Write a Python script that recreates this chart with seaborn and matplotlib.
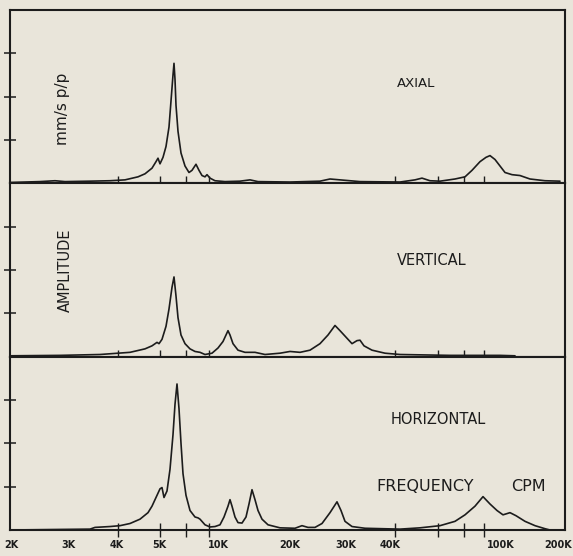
import matplotlib
matplotlib.use("Agg")
import matplotlib.pyplot as plt
import seaborn as sns
import pandas as pd

# ---------------- data (x = position along the chart's frequency scale) ----------------
tick_labels = ["2K", "3K", "4K", "5K", "10K", "20K", "30K", "40K", "100K", "200K"]
tick_label_pos = [11, 68, 117, 159, 218, 290, 346, 390, 501, 558]
tick_mark_pos = [68, 118, 160, 186, 209, 290, 346, 395, 438, 464, 484, 501]

axial_x = [10, 40, 55, 65, 90, 110, 125, 138, 145, 152, 156, 158, 160, 163, 166, 169, 171,
           173, 174, 175, 176, 178, 181, 185, 189, 192, 196, 199, 202, 205, 207, 210, 215,
           225, 240, 250, 258, 290, 320, 330, 340, 360, 400, 415, 422, 430, 440, 455, 465,
           472, 480, 486, 490, 495, 500, 505, 512, 520, 530, 545, 560]
axial_y = [0.02, 0.04, 0.06, 0.04, 0.05, 0.06, 0.08, 0.15, 0.22, 0.35, 0.50, 0.58, 0.45,
           0.60, 0.85, 1.30, 1.90, 2.50, 2.77, 2.40, 1.80, 1.20, 0.70, 0.40, 0.25, 0.30,
           0.44, 0.30, 0.18, 0.15, 0.20, 0.12, 0.06, 0.04, 0.05, 0.08, 0.04, 0.03, 0.05,
           0.10, 0.08, 0.04, 0.03, 0.08, 0.12, 0.06, 0.05, 0.10, 0.15, 0.30, 0.50, 0.60,
           0.64, 0.55, 0.40, 0.25, 0.20, 0.18, 0.10, 0.06, 0.05]

vert_x = [10, 60, 100, 130, 145, 152, 157, 159, 162, 166, 169, 172, 174, 176, 178, 181,
          185, 190, 195, 200, 205, 212, 218, 223, 226, 228, 230, 233, 238, 245, 255, 265,
          280, 290, 300, 310, 320, 328, 335, 340, 348, 352, 357, 360, 364, 372, 385, 400,
          450, 500, 515]
vert_y = [0.02, 0.03, 0.05, 0.10, 0.18, 0.25, 0.33, 0.30, 0.40, 0.70, 1.10, 1.60, 1.84,
          1.40, 0.90, 0.50, 0.30, 0.18, 0.12, 0.10, 0.05, 0.08, 0.20, 0.35, 0.50, 0.60,
          0.50, 0.30, 0.15, 0.10, 0.10, 0.05, 0.08, 0.12, 0.10, 0.15, 0.30, 0.50, 0.72,
          0.60, 0.40, 0.30, 0.37, 0.38, 0.25, 0.15, 0.08, 0.05, 0.03, 0.03, 0.02]

horiz_x = [10, 90, 95, 110, 120, 130, 140, 148, 152, 156, 160, 162, 164, 167, 170, 173,
           175, 177, 179, 181, 183, 186, 190, 195, 198, 200, 205, 210, 215, 220, 224, 228,
           230, 232, 235, 238, 242, 246, 249, 252, 255, 258, 262, 268, 280, 295, 302, 308,
           315, 322, 330, 337, 341, 345, 352, 365, 400, 420, 440, 455, 465, 475, 483, 490,
           497, 503, 510, 516, 525, 535, 545, 550]
horiz_y = [0.00, 0.02, 0.06, 0.08, 0.10, 0.15, 0.25, 0.40, 0.55, 0.75, 0.95, 0.98, 0.75,
           0.90, 1.40, 2.20, 2.90, 3.37, 2.80, 2.00, 1.30, 0.80, 0.45, 0.30, 0.28, 0.25,
           0.12, 0.07, 0.08, 0.12, 0.30, 0.55, 0.70, 0.55, 0.30, 0.17, 0.16, 0.30, 0.60,
           0.93, 0.70, 0.45, 0.25, 0.12, 0.05, 0.04, 0.10, 0.06, 0.06, 0.15, 0.40, 0.65,
           0.45, 0.20, 0.08, 0.04, 0.02, 0.05, 0.10, 0.20, 0.35, 0.55, 0.77, 0.60, 0.45,
           0.35, 0.40, 0.33, 0.20, 0.10, 0.03, 0.00]

panels = [("AXIAL", axial_x, axial_y), ("VERTICAL", vert_x, vert_y),
          ("HORIZONTAL", horiz_x, horiz_y)]

# ---------------- style ----------------
BG = "#e9e5da"
INK = "#1c1c1c"
sns.set_style("white", {"axes.facecolor": BG, "figure.facecolor": BG,
                        "axes.edgecolor": INK})
plt.rcParams["font.family"] = ["DejaVu Sans"]

fig = plt.figure(figsize=(5.73, 5.56), dpi=100)
W, H = 573, 556
left, right = 10, 565
bottom_px, panel_h = 26, 520 / 3

axes = []
for i, (name, xs, ys) in enumerate(panels):
    b = bottom_px + (2 - i) * panel_h
    ax = fig.add_axes([left / W, b / H, (right - left) / W, panel_h / H])
    df = pd.DataFrame({"pos": xs, "amp": ys})
    sns.lineplot(data=df, x="pos", y="amp", ax=ax, color=INK, linewidth=1.2,
                 sort=False, estimator=None)
    ax.set_xlim(left, right)
    ax.set_ylim(0, 4)
    ax.set_xlabel("")
    ax.set_ylabel("")
    for s in ax.spines.values():
        s.set_linewidth(1.5)
        s.set_color(INK)
    ax.set_yticks([1, 2, 3])
    ax.set_yticklabels([])
    ax.tick_params(axis="y", which="major", left=True, direction="inout", length=9,
                   width=1.1, color=INK)
    ax.set_xticks(tick_mark_pos, minor=True)
    ax.set_xticks(tick_label_pos)
    ax.tick_params(axis="x", which="minor", bottom=True, direction="inout", length=10,
                   width=1.0, color=INK)
    if i == 2:
        ax.set_xticklabels(tick_labels, fontsize=7, fontweight="bold", color=INK)
        ax.tick_params(axis="x", which="major", bottom=True, length=0, pad=7)
    else:
        ax.set_xticklabels([])
        ax.tick_params(axis="x", which="major", length=0)
    axes.append(ax)

ax1, ax2, ax3 = axes
ax1.text(416, 2.3, "AXIAL", ha="center", va="center", fontsize=9.5, color=INK)
ax1.text(63, 1.72, "mm/s p/p", rotation=90, ha="center", va="center", fontsize=11,
         color=INK)
ax2.text(432, 2.23, "VERTICAL", ha="center", va="center", fontsize=10.5, color=INK)
ax2.text(65, 2.0, "AMPLITUDE", rotation=90, ha="center", va="center", fontsize=10.5,
         color=INK)
ax3.text(438, 2.56, "HORIZONTAL", ha="center", va="center", fontsize=10.5, color=INK)
ax3.text(425, 1.0, "FREQUENCY", ha="center", va="center", fontsize=11.5, color=INK)
ax3.text(528, 1.0, "CPM", ha="center", va="center", fontsize=11.5, color=INK)

fig.savefig("out.png", dpi=100, facecolor=BG)
